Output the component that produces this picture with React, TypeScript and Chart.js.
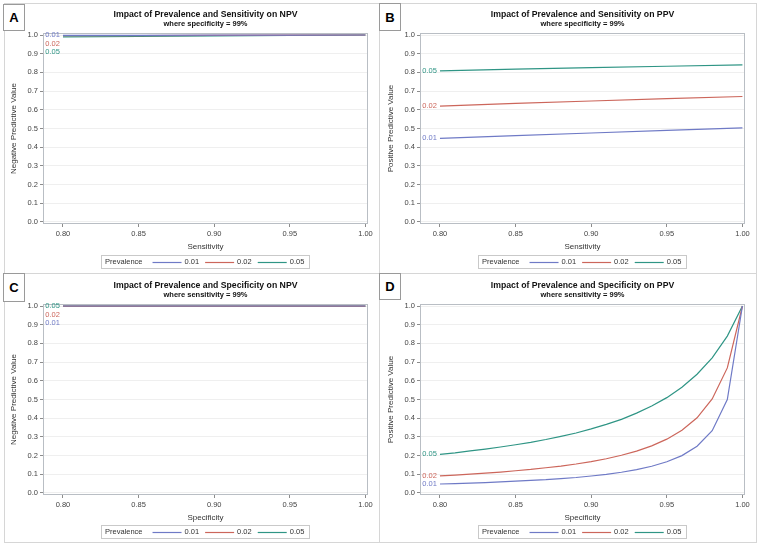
import React, { useEffect, useRef } from 'react';
import { Chart, registerables } from 'chart.js';
Chart.register(...registerables);

const FONT = '"Liberation Sans", Arial, sans-serif';

// ---- shared data ----
const prevalenceLabels = ['0.01', '0.02', '0.05'];
const seriesColors = ['#6F7AC6', '#CC665B', '#2F9585'];
const xTickValues = [0.8, 0.85, 0.9, 0.95, 1.0];
const yTickValues = [0, 0.1, 0.2, 0.3, 0.4, 0.5, 0.6, 0.7, 0.8, 0.9, 1.0];

// Panel A: NPV vs sensitivity (specificity 99%)
const sensitivityA = [0.8, 0.85, 0.9, 0.95, 1.0];
const npvA_p01 = [0.998, 0.9985, 0.999, 0.9995, 1.0];
const npvA_p02 = [0.9959, 0.9969, 0.9979, 0.999, 1.0];
const npvA_p05 = [0.9895, 0.9921, 0.9947, 0.9973, 1.0];

// Panel B: PPV vs sensitivity (specificity 99%)
const sensitivityB = [0.8, 0.85, 0.9, 0.95, 1.0];
const ppvB_p01 = [0.447, 0.462, 0.476, 0.49, 0.503];
const ppvB_p02 = [0.62, 0.634, 0.647, 0.66, 0.671];
const ppvB_p05 = [0.808, 0.817, 0.826, 0.833, 0.84];

// Panel C: NPV vs specificity (sensitivity 99%)
const specificityC = [0.8, 0.85, 0.9, 0.95, 1.0];
const npvC_p01 = [0.9999, 0.9999, 0.9999, 0.9999, 0.9999];
const npvC_p02 = [0.9997, 0.9998, 0.9998, 0.9998, 0.9998];
const npvC_p05 = [0.9993, 0.9994, 0.9994, 0.9995, 0.9995];

// Panel D: PPV vs specificity (sensitivity 99%)
const specificityD = [0.8, 0.81, 0.82, 0.83, 0.84, 0.85, 0.86, 0.87, 0.88, 0.89, 0.9, 0.91, 0.92, 0.93, 0.94, 0.95, 0.96, 0.97, 0.98, 0.99, 1.0];
const ppvD_p01 = [0.048, 0.05, 0.053, 0.056, 0.059, 0.063, 0.067, 0.071, 0.077, 0.083, 0.091, 0.1, 0.111, 0.125, 0.143, 0.167, 0.2, 0.25, 0.333, 0.5, 1.0];
const ppvD_p02 = [0.092, 0.096, 0.101, 0.106, 0.112, 0.119, 0.126, 0.135, 0.144, 0.155, 0.168, 0.183, 0.202, 0.224, 0.252, 0.288, 0.336, 0.402, 0.503, 0.669, 1.0];
const ppvD_p05 = [0.207, 0.215, 0.225, 0.235, 0.246, 0.258, 0.271, 0.286, 0.303, 0.321, 0.343, 0.367, 0.394, 0.427, 0.465, 0.51, 0.566, 0.635, 0.723, 0.839, 1.0];

type PanelDef = {
  letter: string;
  left: number;
  top: number;
  width: number;
  height: number;
  title: string;
  subtitle: string;
  xTitle: string;
  yTitle: string;
  xValues: number[];
  series: number[][];
  labelOrder: number[];
};

const panels: PanelDef[] = [
  {
    letter: 'A', left: 4, top: 4, width: 375, height: 269,
    title: 'Impact of Prevalence and Sensitivity on NPV', subtitle: 'where specificity = 99%',
    xTitle: 'Sensitivity', yTitle: 'Negative Predictive Value',
    xValues: sensitivityA, series: [npvA_p01, npvA_p02, npvA_p05], labelOrder: [0, 1, 2],
  },
  {
    letter: 'B', left: 381, top: 4, width: 376, height: 269,
    title: 'Impact of Prevalence and Sensitivity on PPV', subtitle: 'where specificity = 99%',
    xTitle: 'Sensitivity', yTitle: 'Positive Predictive Value',
    xValues: sensitivityB, series: [ppvB_p01, ppvB_p02, ppvB_p05], labelOrder: [2, 1, 0],
  },
  {
    letter: 'C', left: 4, top: 275, width: 375, height: 268,
    title: 'Impact of Prevalence and Specificity on NPV', subtitle: 'where sensitivity = 99%',
    xTitle: 'Specificity', yTitle: 'Negative Predictive Value',
    xValues: specificityC, series: [npvC_p01, npvC_p02, npvC_p05], labelOrder: [2, 1, 0],
  },
  {
    letter: 'D', left: 381, top: 275, width: 376, height: 268,
    title: 'Impact of Prevalence and Specificity on PPV', subtitle: 'where sensitivity = 99%',
    xTitle: 'Specificity', yTitle: 'Positive Predictive Value',
    xValues: specificityD, series: [ppvD_p01, ppvD_p02, ppvD_p05], labelOrder: [2, 1, 0],
  },
];

function makeDecorPlugin(p: PanelDef) {
  return {
    id: 'decor' + p.letter,
    beforeDatasetsDraw(chart: any) {
      const { ctx, chartArea: a } = chart;
      ctx.save();
      ctx.strokeStyle = '#b9bec4';
      ctx.lineWidth = 1;
      ctx.strokeRect(Math.round(a.left) + 0.5, Math.round(a.top) + 0.5, Math.round(a.right - a.left) - 1, Math.round(a.bottom - a.top) - 1);
      ctx.restore();
    },
    afterDraw(chart: any) {
      const { ctx, chartArea: a, scales } = chart;
      const cx = (a.left + a.right) / 2;
      ctx.save();
      ctx.textAlign = 'center';
      ctx.textBaseline = 'middle';
      ctx.fillStyle = '#111';
      ctx.font = `bold 8.7px ${FONT}`;
      ctx.fillText(p.title, cx, a.top - 18);
      ctx.font = `bold 7.5px ${FONT}`;
      ctx.fillText(p.subtitle, cx, a.top - 9);

      // curve labels
      ctx.font = `7.5px ${FONT}`;
      ctx.textAlign = 'right';
      let prev: number | null = null;
      for (const idx of p.labelOrder) {
        const y0 = scales.y.getPixelForValue(p.series[idx][0]);
        const y = prev === null ? y0 : Math.max(y0, prev + 8.5);
        prev = y;
        const x = scales.x.getPixelForValue(p.xValues[0]) - 3;
        ctx.fillStyle = seriesColors[idx];
        ctx.fillText(prevalenceLabels[idx], x, y);
      }

      // legend
      ctx.font = `7.5px ${FONT}`;
      ctx.textAlign = 'left';
      const padL = 4, padR = 5, gapTitle = 10, lineLen = 29, gapLine = 3, gapItem = 6;
      const titleW = ctx.measureText('Prevalence').width;
      const itemWs = prevalenceLabels.map((t) => ctx.measureText(t).width);
      let total = padL + titleW + gapTitle + padR;
      itemWs.forEach((w, i) => {
        total += lineLen + gapLine + w + (i < itemWs.length - 1 ? gapItem : 0);
      });
      const boxH = 13;
      const boxTop = chart.height - 5 - boxH;
      const boxLeft = Math.round(cx - total / 2);
      ctx.strokeStyle = '#c9c9c9';
      ctx.lineWidth = 1;
      ctx.strokeRect(boxLeft + 0.5, boxTop + 0.5, Math.round(total), boxH);
      const my = boxTop + boxH / 2 + 0.5;
      ctx.fillStyle = '#333';
      let x = boxLeft + padL;
      ctx.fillText('Prevalence', x, my);
      x += titleW + gapTitle;
      prevalenceLabels.forEach((t, i) => {
        ctx.strokeStyle = seriesColors[i];
        ctx.lineWidth = 1.2;
        ctx.beginPath();
        ctx.moveTo(x, Math.round(my) + 0.5);
        ctx.lineTo(x + lineLen, Math.round(my) + 0.5);
        ctx.stroke();
        x += lineLen + gapLine;
        ctx.fillStyle = '#333';
        ctx.fillText(t, x, my);
        x += itemWs[i] + gapItem;
      });
      ctx.restore();
    },
  };
}

function PanelChart({ p }: { p: PanelDef }) {
  const ref = useRef<HTMLCanvasElement | null>(null);
  useEffect(() => {
    if (!ref.current) return;
    const chart = new Chart(ref.current, {
      type: 'line',
      data: {
        datasets: p.series.map((s, i) => ({
          label: prevalenceLabels[i],
          data: s.map((v, j) => ({ x: p.xValues[j], y: v })),
          borderColor: seriesColors[i],
          backgroundColor: seriesColors[i],
          borderWidth: 1.2,
          pointRadius: 0,
          tension: 0,
          fill: false,
        })),
      },
      options: {
        responsive: false,
        animation: false,
        devicePixelRatio: 1,
        layout: { padding: { top: 29, left: 0, right: p.width - 364, bottom: p.height - 248 } },
        plugins: {
          legend: { display: false },
          tooltip: { enabled: false },
          title: { display: false },
        },
        scales: {
          x: {
            type: 'linear',
            min: 0.7868,
            max: 1.0017,
            afterBuildTicks: (s: any) => {
              s.ticks = xTickValues.map((v) => ({ value: v }));
            },
            afterFit: (s: any) => {
              s.height = 28;
              s.paddingLeft = 0;
              s.paddingRight = 0;
            },
            grid: { drawOnChartArea: false, tickLength: 3, tickColor: '#8c8c8c' },
            border: { display: false },
            ticks: {
              font: { size: 7.5, family: FONT },
              color: '#444',
              padding: 2,
              maxRotation: 0,
              autoSkip: false,
              callback: (v: any) => Number(v).toFixed(2),
            },
            title: {
              display: true,
              text: p.xTitle,
              font: { size: 8, family: FONT },
              color: '#333',
              padding: { top: 0, bottom: 0 },
            },
          },
          y: {
            type: 'linear',
            min: -0.0107,
            max: 1.0107,
            afterBuildTicks: (s: any) => {
              s.ticks = yTickValues.map((v) => ({ value: v }));
            },
            afterFit: (s: any) => {
              s.width = 39;
              s.paddingTop = 0;
              s.paddingBottom = 0;
            },
            grid: { color: '#efefef', tickLength: 3, tickColor: '#8c8c8c' },
            border: { display: false },
            ticks: {
              font: { size: 7.5, family: FONT },
              color: '#444',
              padding: 2,
              autoSkip: false,
              callback: (v: any) => Number(v).toFixed(1),
            },
            title: {
              display: true,
              text: p.yTitle,
              font: { size: 8, family: FONT },
              color: '#333',
              padding: { top: 5, bottom: 0 },
            },
          },
        },
      },
      plugins: [makeDecorPlugin(p)],
    } as any);
    return () => chart.destroy();
  }, [p]);
  return (
    <canvas
      ref={ref}
      width={p.width}
      height={p.height}
      style={{ position: 'absolute', left: p.left, top: p.top, width: p.width, height: p.height }}
    />
  );
}

const letterBoxes = [
  { letter: 'A', left: 3, top: 4, width: 22, height: 27 },
  { letter: 'B', left: 379, top: 3, width: 22, height: 28 },
  { letter: 'C', left: 3, top: 273, width: 22, height: 29 },
  { letter: 'D', left: 379, top: 273, width: 22, height: 27 },
];

export default function App() {
  return (
    <div style={{ position: 'absolute', left: 0, top: 0, width: 759, height: 547, background: '#fff', overflow: 'hidden' }}>
      {/* panel frame lines */}
      <div style={{ position: 'absolute', left: 4, top: 3, width: 753, height: 540, border: '1px solid #d6d6d6', boxSizing: 'border-box' }} />
      <div style={{ position: 'absolute', left: 379, top: 3, width: 1, height: 540, background: '#d6d6d6' }} />
      <div style={{ position: 'absolute', left: 4, top: 273, width: 753, height: 1, background: '#d6d6d6' }} />
      {panels.map((p) => (
        <PanelChart key={p.letter} p={p} />
      ))}
      {letterBoxes.map((b) => (
        <div
          key={b.letter}
          style={{
            position: 'absolute',
            left: b.left,
            top: b.top,
            width: b.width,
            height: b.height,
            boxSizing: 'border-box',
            border: '1px solid #9a9a9a',
            background: '#fff',
            display: 'flex',
            alignItems: 'center',
            justifyContent: 'center',
            font: `bold 13px ${FONT}`,
            color: '#000',
          }}
        >
          {b.letter}
        </div>
      ))}
    </div>
  );
}
